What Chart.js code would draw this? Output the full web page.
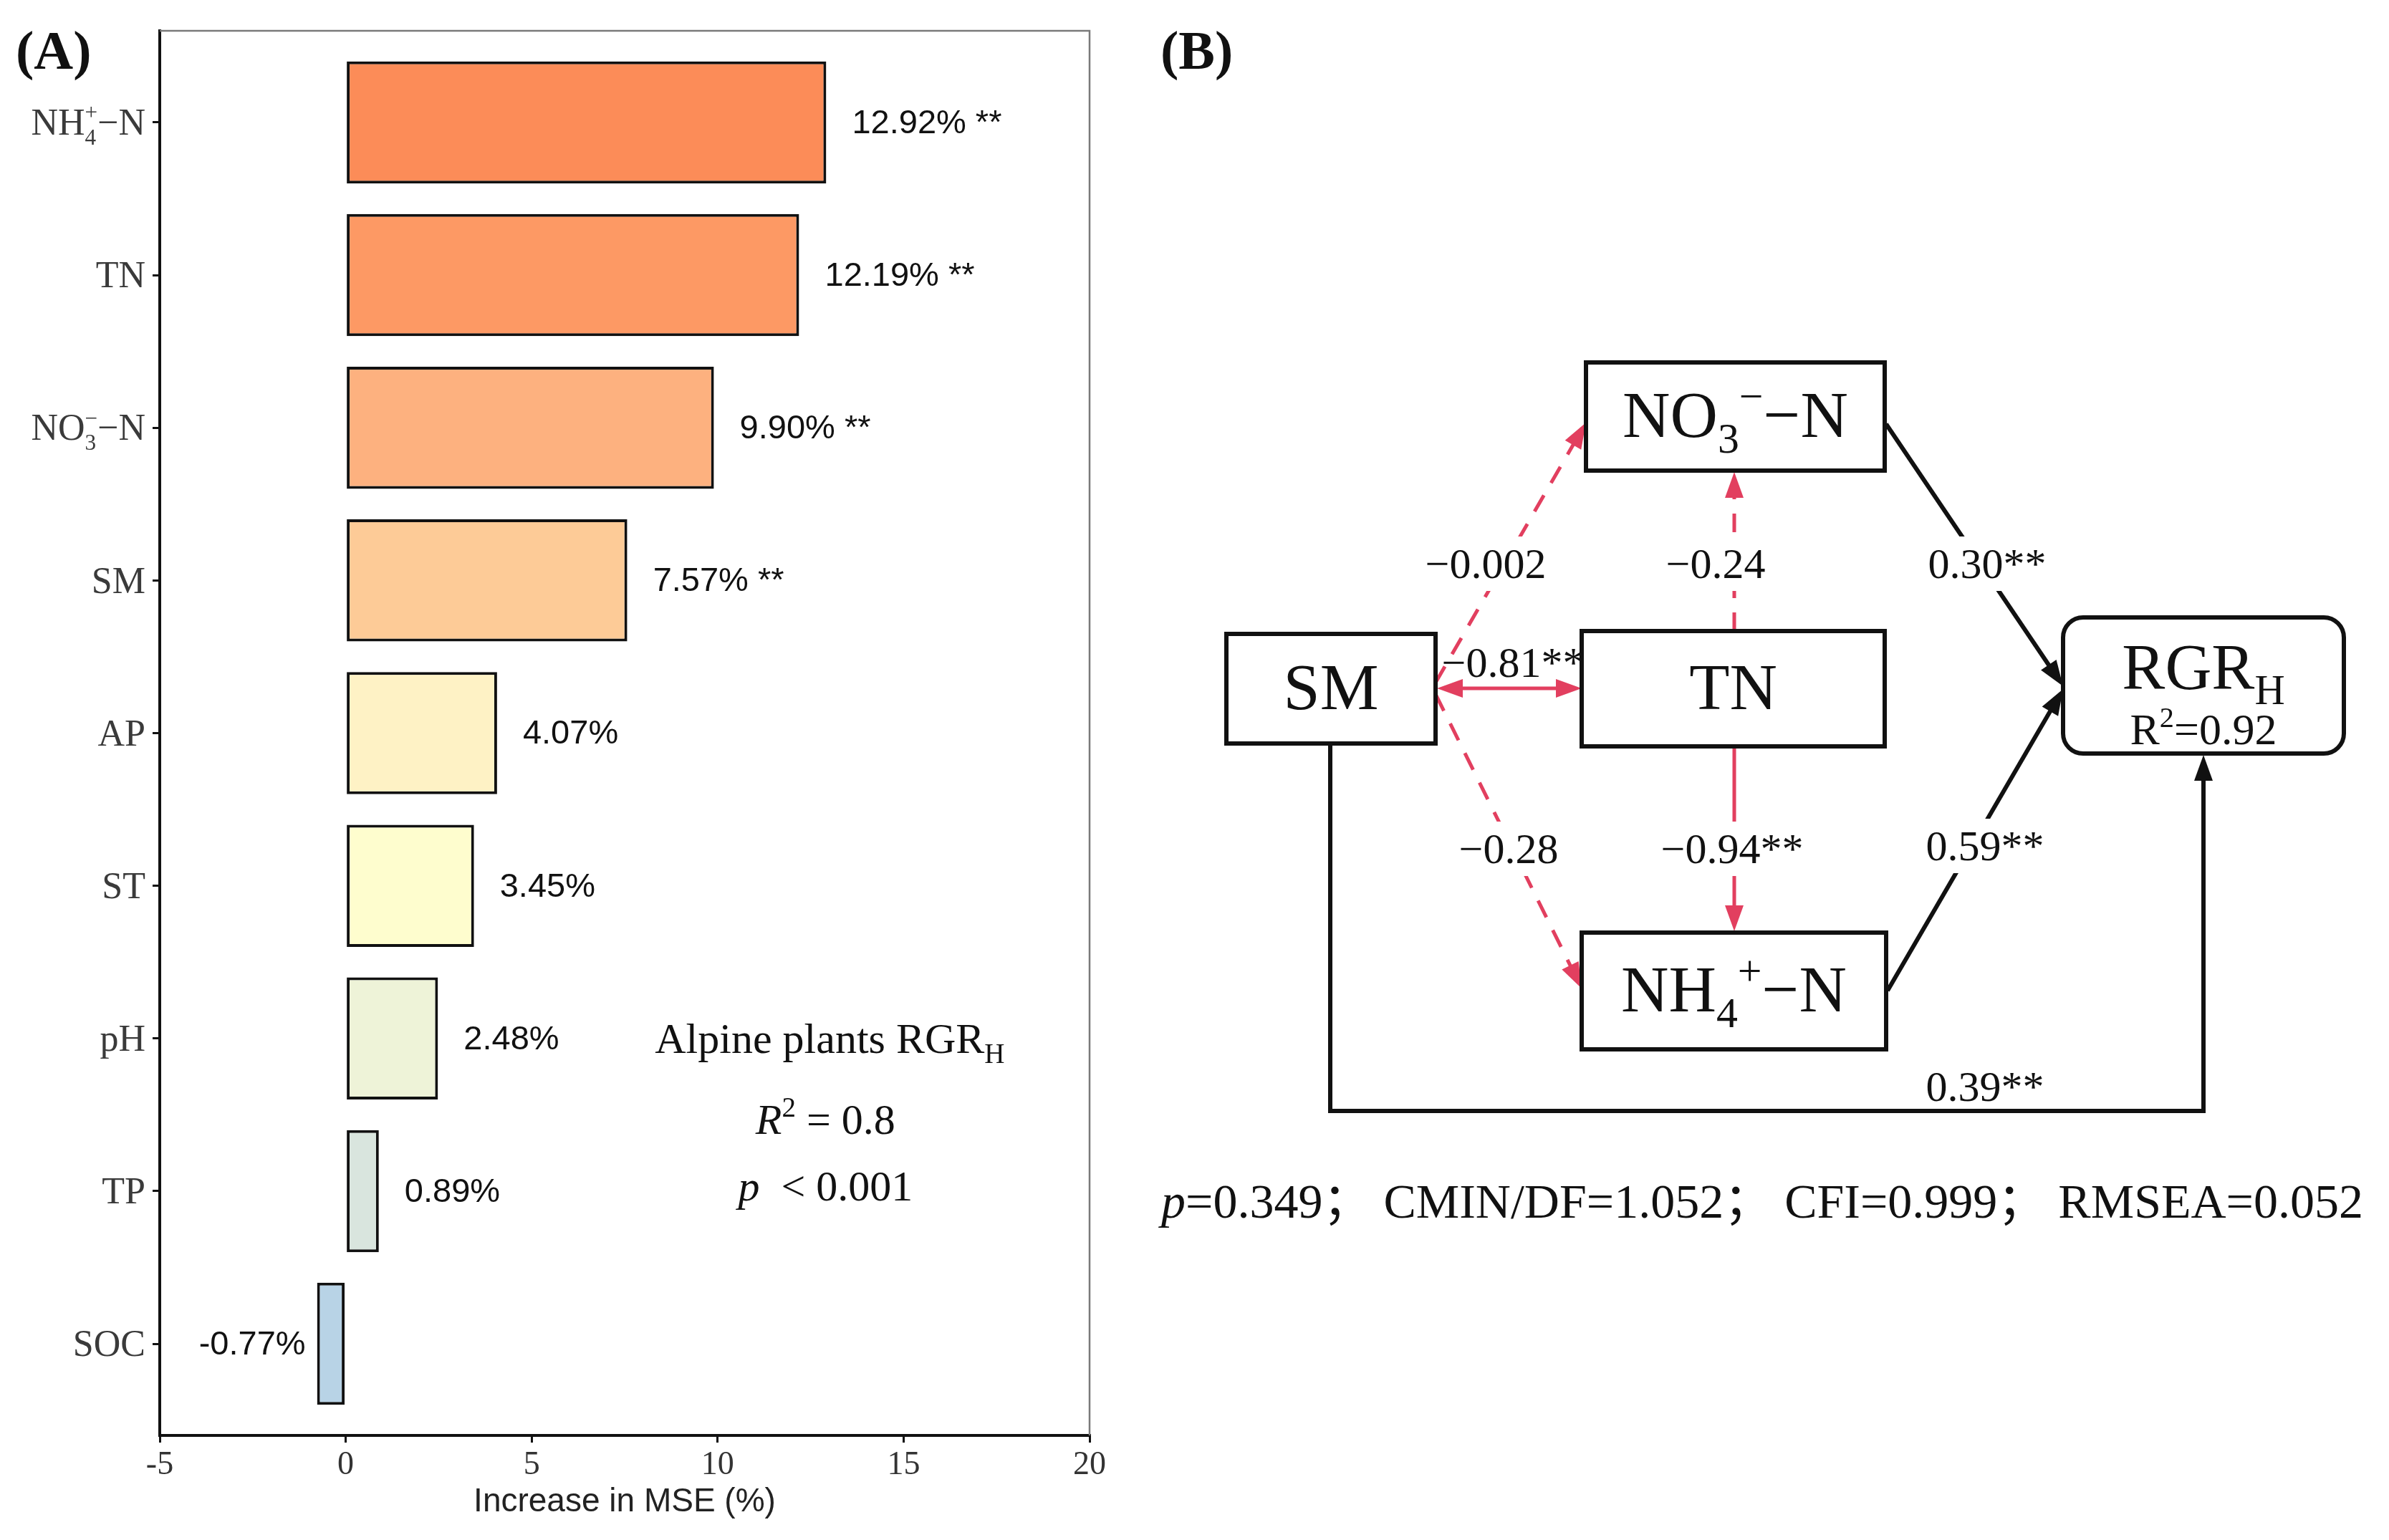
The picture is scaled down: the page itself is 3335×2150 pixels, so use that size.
<!DOCTYPE html>
<html>
<head>
<meta charset="utf-8">
<script src="https://cdn.jsdelivr.net/npm/chart.js@4.4.1/dist/chart.umd.min.js"></script>
<style>
  html, body { margin: 0; padding: 0; background: #fff; }
  #wrap { width: 3335px; height: 2150px; position: relative; }
</style>
</head>
<body>
<div id="wrap"><canvas id="chart"></canvas></div>
<script>
// Panel A data
const categories = ['NH4+-N', 'TN', 'NO3--N', 'SM', 'AP', 'ST', 'pH', 'TP', 'SOC'];
const mseIncrease = [12.92, 12.19, 9.90, 7.57, 4.07, 3.45, 2.48, 0.89, -0.77];
const significance = ['**', '**', '**', '**', '', '', '', '', ''];
const barColors = ['#fc8c58', '#fd9964', '#fdb17f', '#fdcb97', '#fef2c5', '#fefdce', '#eef3d8', '#d9e5de', '#b8d3e6'];
const xTickValues = [-5, 0, 5, 10, 15, 20];
const modelR2 = 0.8;

// Panel B data (path model)
const pathFrom = ['SM', 'SM', 'SM', 'TN', 'TN', 'NO3', 'NH4', 'SM'];
const pathTo = ['NO3', 'TN', 'NH4', 'NO3', 'NH4', 'RGR', 'RGR', 'RGR'];
const pathCoef = [-0.002, -0.81, -0.28, -0.24, -0.94, 0.30, 0.59, 0.39];
const pathSig = ['', '**', '', '', '**', '**', '**', '**'];
const rgrR2 = 0.92;
const fitNames = ['CMIN/DF', 'CFI', 'RMSEA'];
const fitValues = ['1.052', '0.999', '0.052'];
const modelP = '0.349';

const SERIF = '"Liberation Serif", "Times New Roman", "Noto Sans CJK SC", serif';
const SANS = '"Liberation Sans", Arial, sans-serif';
const RED = '#e23f5f';

// rich text: NH4+ etc
const richLabels = {
    'NH4+-N': [{ t: 'NH' }, { k: 'stack', sup: '+', sub: '4' }, { t: '\u2212N' }],
    'NO3--N': [{ t: 'NO' }, { k: 'stack', sup: '\u2212', sub: '3' }, { t: '\u2212N' }]
};
const nodeLabels = {
    SM: [{ t: 'SM' }],
    TN: [{ t: 'TN' }],
    NO3: [{ t: 'NO' }, { t: '3', k: 'sub' }, { t: '\u2212', k: 'sup' }, { t: '\u2212N' }],
    NH4: [{ t: 'NH' }, { t: '4', k: 'sub' }, { t: '+', k: 'sup' }, { t: '\u2212N' }],
    RGR: [{ t: 'RGR' }, { t: 'H', k: 'sub' }]
};

function segFont(size, italic, bold, family) {
    return (italic ? 'italic ' : '') + (bold ? 'bold ' : '') + size + 'px ' + family;
}

function drawRich(ctx, segs, x, y, size, family, align, color) {
    const items = [];
    let w = 0;
    segs.forEach(s => {
        if (s.k === 'stack') {
            const fs = size * 0.6;
            ctx.font = segFont(fs, false, false, family);
            items.push({ x: w, s, fs });
            w += Math.max(ctx.measureText(s.sup).width, ctx.measureText(s.sub).width);
        } else {
            const fs = (s.k === 'sub' || s.k === 'sup') ? size * 0.65 : size;
            ctx.font = segFont(fs, s.k === 'it', s.bold, family);
            items.push({ x: w, s, fs });
            w += ctx.measureText(s.t).width;
        }
    });
    const x0 = align === 'center' ? x - w / 2 : align === 'right' ? x - w : x;
    const base = y + size * 0.33;
    ctx.save();
    ctx.textAlign = 'left';
    ctx.textBaseline = 'alphabetic';
    ctx.fillStyle = color;
    items.forEach(it => {
        const s = it.s;
        if (s.k === 'stack') {
            ctx.font = segFont(it.fs, false, false, family);
            ctx.fillText(s.sup, x0 + it.x, base - size * 0.4);
            ctx.fillText(s.sub, x0 + it.x, base + size * 0.26);
        } else {
            const dy = s.k === 'sub' ? size * 0.24 : s.k === 'sup' ? -size * 0.4 : 0;
            ctx.font = segFont(it.fs, s.k === 'it', s.bold, family);
            ctx.fillText(s.t, x0 + it.x, base + dy);
        }
    });
    ctx.restore();
    return w;
}

function fmtCoef(v) {
    const d = Math.abs(v) < 0.01 ? 3 : 2;
    return (v < 0 ? '\u2212' : '') + Math.abs(v).toFixed(d);
}

function drawHead(ctx, x1, y1, x2, y2, len, half) {
    const a = Math.atan2(y2 - y1, x2 - x1);
    ctx.beginPath();
    ctx.moveTo(x2, y2);
    ctx.lineTo(x2 - len * Math.cos(a) + half * Math.sin(a), y2 - len * Math.sin(a) - half * Math.cos(a));
    ctx.lineTo(x2 - len * Math.cos(a) - half * Math.sin(a), y2 - len * Math.sin(a) + half * Math.cos(a));
    ctx.closePath();
    ctx.fill();
}

// polyline arrow, head at the last point (and optionally the first)
function drawArrow(ctx, pts, color, width, dashed, both) {
    const len = 36, half = 13;
    const p = pts.map(q => q.slice());
    const n = p.length;
    const shorten = (a, b) => {
        const d = Math.hypot(b[0] - a[0], b[1] - a[1]);
        return [b[0] - (b[0] - a[0]) * (len - 4) / d, b[1] - (b[1] - a[1]) * (len - 4) / d];
    };
    const line = p.slice();
    line[n - 1] = shorten(p[n - 2], p[n - 1]);
    if (both) line[0] = shorten(p[1], p[0]);
    ctx.save();
    ctx.strokeStyle = color;
    ctx.fillStyle = color;
    ctx.lineWidth = width;
    ctx.setLineDash(dashed ? [26, 20] : []);
    ctx.beginPath();
    ctx.moveTo(line[0][0], line[0][1]);
    for (let i = 1; i < n; i++) ctx.lineTo(line[i][0], line[i][1]);
    ctx.stroke();
    ctx.setLineDash([]);
    drawHead(ctx, p[n - 2][0], p[n - 2][1], p[n - 1][0], p[n - 1][1], len, half);
    if (both) drawHead(ctx, p[1][0], p[1][1], p[0][0], p[0][1], len, half);
    ctx.restore();
}

// Panel B layout
const nodeBoxes = {
    SM: { x1: 1712, y1: 885, x2: 2004, y2: 1038 },
    TN: { x1: 2208, y1: 881, x2: 2631, y2: 1042 },
    NO3: { x1: 2214, y1: 506, x2: 2631, y2: 657 },
    NH4: { x1: 2208, y1: 1302, x2: 2633, y2: 1465 },
    RGR: { x1: 2880, y1: 862, x2: 3272, y2: 1052, r: 28 }
};
const pathGeom = [
    { pts: [[2004, 953], [2214, 590]], lab: [2074, 787], bg: true },
    { pts: [[2006, 961], [2208, 961]], lab: [2112, 925], bg: false, both: true },
    { pts: [[2004, 969], [2208, 1380]], lab: [2106, 1185], bg: true },
    { pts: [[2421, 881], [2421, 659]], lab: [2395, 787], bg: true },
    { pts: [[2421, 1042], [2421, 1300]], lab: [2418, 1185], bg: true },
    { pts: [[2633, 592], [2880, 958]], lab: [2774, 787], bg: true },
    { pts: [[2635, 1383], [2880, 962]], lab: [2771, 1181], bg: true },
    { pts: [[1857, 1038], [1857, 1551], [3076, 1551], [3076, 1054]], lab: [2771, 1517], bg: false }
];

const frameAndLabels = {
    id: 'frameAndLabels',
    afterDatasetsDraw(chart) {
        const { ctx, chartArea: ca, scales } = chart;
        // grey top/right frame
        ctx.save();
        ctx.strokeStyle = '#7a7a7a';
        ctx.lineWidth = 2.5;
        ctx.beginPath();
        ctx.moveTo(ca.left, ca.top);
        ctx.lineTo(ca.right, ca.top);
        ctx.lineTo(ca.right, ca.bottom);
        ctx.stroke();
        ctx.restore();

        // bar value labels
        const meta = chart.getDatasetMeta(0);
        meta.data.forEach((bar, i) => {
            const v = mseIncrease[i];
            const txt = v.toFixed(2) + '%' + (significance[i] ? ' ' + significance[i] : '');
            ctx.save();
            ctx.font = '47px ' + SANS;
            ctx.fillStyle = '#111';
            ctx.textBaseline = 'middle';
            if (v >= 0) {
                ctx.textAlign = 'left';
                ctx.fillText(txt, bar.x + 36, bar.y + 2);
            } else {
                ctx.textAlign = 'right';
                ctx.fillText(txt, bar.x - 16, bar.y + 2);
            }
            ctx.restore();
        });

        // y tick labels
        categories.forEach((c, i) => {
            const y = scales.y.getPixelForValue(i + 1);
            const segs = richLabels[c] || [{ t: c }];
            drawRich(ctx, segs, ca.left - 20, y, 52, SERIF, 'right', '#3a3a3a');
        });

        // x title
        ctx.save();
        ctx.font = '46px ' + SANS;
        ctx.fillStyle = '#222';
        ctx.textAlign = 'center';
        ctx.textBaseline = 'middle';
        ctx.fillText('Increase in MSE (%)', (ca.left + ca.right) / 2, 2097);
        ctx.restore();

        // annotation
        const ax = scales.x.getPixelForValue(12.9);
        drawRich(ctx, [{ t: 'Alpine plants RGR' }, { t: 'H', k: 'sub' }], ax + 6, scales.y.getPixelForValue(7.0), 60, SERIF, 'center', '#111');
        drawRich(ctx, [{ t: 'R', k: 'it' }, { t: '2', k: 'sup' }, { t: ' = ' + modelR2 }], ax, scales.y.getPixelForValue(7.53), 60, SERIF, 'center', '#111');
        drawRich(ctx, [{ t: 'p', k: 'it' }, { t: '  < 0.001' }], ax, scales.y.getPixelForValue(7.97), 60, SERIF, 'center', '#111');

        // panel letters
        ctx.save();
        ctx.font = 'bold 76px ' + SERIF;
        ctx.fillStyle = '#111';
        ctx.textBaseline = 'middle';
        ctx.fillText('(A)', 22, 76);
        ctx.fillText('(B)', 1620, 76);
        ctx.restore();
    }
};

const pathDiagram = {
    id: 'pathDiagram',
    afterDraw(chart) {
        const ctx = chart.ctx;
        // arrows first
        pathFrom.forEach((f, i) => {
            const g = pathGeom[i];
            const neg = pathCoef[i] < 0;
            drawArrow(ctx, g.pts, neg ? RED : '#111', neg ? 5 : 6, !pathSig[i], g.both);
        });
        // boxes
        Object.keys(nodeBoxes).forEach(k => {
            const b = nodeBoxes[k];
            ctx.save();
            ctx.fillStyle = '#fff';
            ctx.strokeStyle = '#111';
            ctx.lineWidth = 6;
            ctx.beginPath();
            if (b.r) ctx.roundRect(b.x1, b.y1, b.x2 - b.x1, b.y2 - b.y1, b.r);
            else ctx.rect(b.x1, b.y1, b.x2 - b.x1, b.y2 - b.y1);
            ctx.fill();
            ctx.stroke();
            ctx.restore();
            const cx = (b.x1 + b.x2) / 2;
            if (k === 'RGR') {
                drawRich(ctx, nodeLabels[k], cx, 932, 90, SERIF, 'center', '#111');
                drawRich(ctx, [{ t: 'R' }, { t: '2', k: 'sup' }, { t: '=' + rgrR2.toFixed(2) }], cx, 1019, 62, SERIF, 'center', '#111');
            } else {
                drawRich(ctx, nodeLabels[k], cx, (b.y1 + b.y2) / 2 - 2, 92, SERIF, 'center', '#111');
            }
        });
        // coefficient labels
        pathFrom.forEach((f, i) => {
            const g = pathGeom[i];
            const txt = fmtCoef(pathCoef[i]) + pathSig[i];
            ctx.save();
            ctx.font = '60px ' + SERIF;
            if (g.bg) {
                const w = ctx.measureText(txt).width;
                ctx.fillStyle = '#fff';
                ctx.fillRect(g.lab[0] - w / 2 - 6, g.lab[1] - 38, w + 12, 76);
            }
            ctx.restore();
            drawRich(ctx, [{ t: txt }], g.lab[0], g.lab[1], 60, SERIF, 'center', '#111');
        });
        // fit statistics
        const stats = '=' + modelP + '\uff1b ' + fitNames.map((n, i) => n + '=' + fitValues[i]).join('\uff1b ');
        drawRich(ctx, [{ t: 'p', k: 'it' }, { t: stats }], 2460, 1678, 68, SERIF, 'center', '#111');
    }
};

const ctx = document.getElementById('chart').getContext('2d');
const chart = new Chart(ctx, {
    type: 'bar',
    data: {
        datasets: [{
            data: mseIncrease.map((v, i) => ({ x: v, y: i + 1 })),
            backgroundColor: barColors,
            borderColor: '#111',
            borderWidth: 4,
            borderSkipped: false,
            barPercentage: 0.8,
            categoryPercentage: 1
        }]
    },
    options: {
        indexAxis: 'y',
        responsive: true,
        maintainAspectRatio: false,
        animation: false,
        layout: { padding: { left: 0, top: 43, right: 1814, bottom: 0 } },
        plugins: { legend: { display: false }, tooltip: { enabled: false } },
        scales: {
            x: {
                type: 'linear',
                min: -5,
                max: 20,
                afterBuildTicks: s => { s.ticks = xTickValues.map(v => ({ value: v })); },
                ticks: { font: { family: SERIF, size: 46 }, color: '#333', padding: 4, maxRotation: 0 },
                grid: { drawOnChartArea: false, color: '#111', lineWidth: 3, tickLength: 10 },
                border: { color: '#111', width: 4 },
                afterFit: s => { s.height = 146; }
            },
            y: {
                type: 'linear',
                reverse: true,
                offset: false,
                min: 0.4,
                max: 9.6,
                afterBuildTicks: s => { s.ticks = categories.map((c, i) => ({ value: i + 1 })); },
                ticks: { display: false },
                grid: { offset: false, drawOnChartArea: false, color: '#111', lineWidth: 3, tickLength: 10 },
                border: { color: '#111', width: 4 },
                afterFit: s => { s.width = 223; }
            }
        }
    },
    plugins: [frameAndLabels, pathDiagram]
});
</script>
</body>
</html>
